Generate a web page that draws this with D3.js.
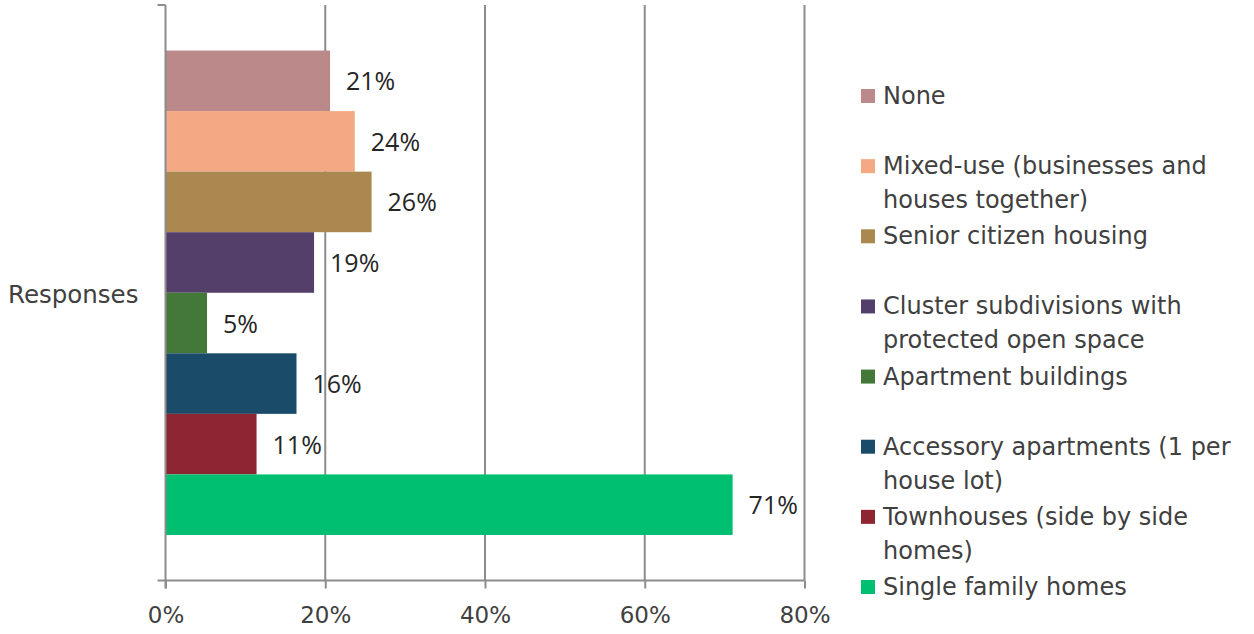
<!DOCTYPE html>
<html>
<head>
<meta charset="utf-8">
<script src="https://cdn.jsdelivr.net/npm/d3@7"></script>
<style>
  body { margin: 0; background: #fff; }
  svg { display: block; }
</style>
</head>
<body>
<div id="chart"></div>
<script>
const WIDTH = 1254;
const HEIGHT = 634;

// categories top to bottom
const categories = [
    "None",
    "Mixed-use (businesses and\nhouses together)",
    "Senior citizen housing",
    "Cluster subdivisions with\nprotected open space",
    "Apartment buildings",
    "Accessory apartments (1 per\nhouse lot)",
    "Townhouses (side by side\nhomes)",
    "Single family homes"
];
const values = [0.206, 0.237, 0.258, 0.186, 0.052, 0.164, 0.114, 0.71];
const colors = ["#bc898a", "#f4a984", "#ab884f", "#533f69", "#447838", "#1a4c6a", "#8e2532", "#00bf70"];
const xTicks = [0, 0.2, 0.4, 0.6, 0.8];
const seriesLabel = "Responses";

const plot = { left: 165.5, right: 804.5, top: 5, bottom: 580.5 };
const GRID = "#8c8c8c";
const LEGEND_FONT = "'DejaVu Sans', sans-serif";

const svg = d3.select("#chart").append("svg")
    .attr("width", WIDTH)
    .attr("height", HEIGHT);

const x = d3.scaleLinear()
    .domain([0, 0.8])
    .range([plot.left, plot.right]);

const y = d3.scaleBand()
    .domain(categories)
    .range([plot.top, plot.bottom])
    .paddingInner(0)
    .paddingOuter(0.752);

// gridlines
svg.append("g")
    .selectAll("line")
    .data(xTicks.slice(1))
    .enter().append("line")
    .attr("x1", d => x(d))
    .attr("x2", d => x(d))
    .attr("y1", plot.top)
    .attr("y2", plot.bottom)
    .attr("stroke", GRID)
    .attr("stroke-width", 2);

// bars
svg.append("g")
    .selectAll("rect")
    .data(categories)
    .enter().append("rect")
    .attr("x", x(0))
    .attr("y", d => y(d))
    .attr("width", (d, i) => x(values[i]) - x(0))
    .attr("height", y.bandwidth())
    .attr("fill", (d, i) => colors[i]);

// x axis
const xAxis = svg.append("g")
    .attr("transform", `translate(0,${plot.bottom})`)
    .call(d3.axisBottom(x).tickValues(xTicks).tickFormat(d3.format(".0%")).tickSize(8).tickSizeOuter(0));
xAxis.select(".domain").remove();
xAxis.append("line")
    .attr("x1", plot.left - 8)
    .attr("x2", plot.right)
    .attr("stroke", GRID)
    .attr("stroke-width", 2);
xAxis.selectAll(".tick line").attr("stroke", GRID).attr("stroke-width", 2);
xAxis.selectAll(".tick text")
    .attr("y", 26)
    .attr("dy", "0.71em")
    .attr("fill", "#404040")
    .style("font-family", LEGEND_FONT)
    .style("font-size", "23px");

// y axis
svg.append("line")
    .attr("x1", plot.left)
    .attr("x2", plot.left)
    .attr("y1", plot.top)
    .attr("y2", plot.bottom + 8)
    .attr("stroke", GRID)
    .attr("stroke-width", 2);
svg.append("line")
    .attr("x1", plot.left - 8)
    .attr("x2", plot.left)
    .attr("y1", plot.top)
    .attr("y2", plot.top)
    .attr("stroke", GRID)
    .attr("stroke-width", 2);

svg.append("text")
    .attr("x", 8)
    .attr("y", (plot.top + plot.bottom) / 2 + 10)
    .attr("fill", "#404040")
    .style("font-family", LEGEND_FONT)
    .style("font-size", "24.5px")
    .text(seriesLabel);

// data labels
svg.append("g")
    .selectAll("text")
    .data(categories)
    .enter().append("text")
    .attr("x", (d, i) => x(values[i]) + 16)
    .attr("y", d => y(d) + y.bandwidth() / 2)
    .attr("dy", "0.38em")
    .attr("fill", "#262626")
    .style("font-family", "'Open Sans', sans-serif")
    .style("font-size", "25px")
    .text((d, i) => d3.format(".0%")(values[i]));

// legend
const ly = d3.scalePoint()
    .domain(categories)
    .range([104, 595]);

const legend = svg.append("g")
    .selectAll("g")
    .data(categories)
    .enter().append("g")
    .attr("transform", d => `translate(861,${ly(d)})`);

legend.append("rect")
    .attr("x", 0)
    .attr("y", -15)
    .attr("width", 14)
    .attr("height", 14)
    .attr("fill", (d, i) => colors[i]);

legend.append("text")
    .attr("fill", "#404040")
    .style("font-family", LEGEND_FONT)
    .style("font-size", "24px")
    .selectAll("tspan")
    .data(d => d.split("\n"))
    .enter().append("tspan")
    .attr("x", 22)
    .attr("y", (d, i) => i * 34)
    .text(d => d);
</script>
</body>
</html>
